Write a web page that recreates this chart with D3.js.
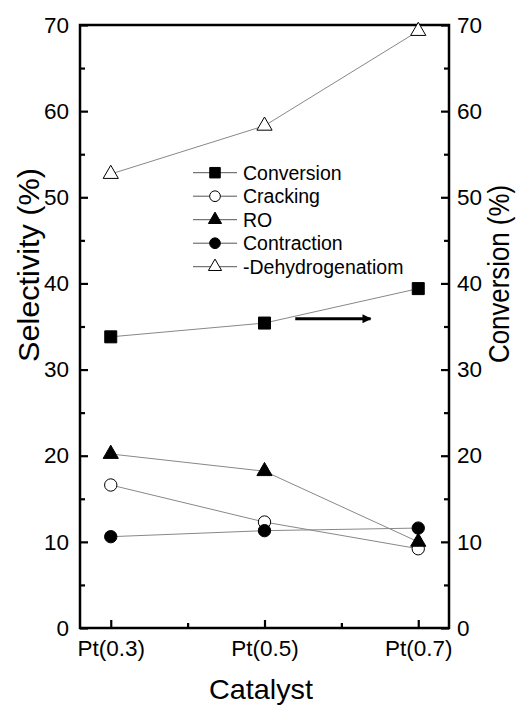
<!DOCTYPE html>
<html>
<head>
<meta charset="utf-8">
<script src="https://cdn.jsdelivr.net/npm/d3@7"></script>
<style>
  html, body { margin: 0; padding: 0; background: #fff; }
  svg { display: block; font-family: "Liberation Sans", Arial, sans-serif; }
</style>
</head>
<body>
<svg id="chart" width="525" height="705"></svg>
<script>
const categories = ["Pt(0.3)", "Pt(0.5)", "Pt(0.7)"];
const conversion = [33.8, 35.4, 39.4];
const cracking = [16.6, 12.3, 9.2];
const ro = [20.2, 18.2, 10.0];
const contraction = [10.6, 11.3, 11.6];
const dehydrogenation = [52.7, 58.3, 69.3];
const seriesNames = ["Conversion", "Cracking", "RO", "Contraction", "-Dehydrogenatiom"];
const yTicks = [0, 10, 20, 30, 40, 50, 60, 70];

(function () {
const series = [
  { name: seriesNames[0], values: conversion, symbol: d3.symbolSquare, size: 144, fill: "#000", lsize: 110 },
  { name: seriesNames[1], values: cracking, symbol: d3.symbolCircle, size: 120, fill: "#fff", lsize: 90 },
  { name: seriesNames[2], values: ro, symbol: d3.symbolTriangle, size: 100, fill: "#000", lsize: 75 },
  { name: seriesNames[3], values: contraction, symbol: d3.symbolCircle, size: 120, fill: "#000", lsize: 90 },
  { name: seriesNames[4], values: dehydrogenation, symbol: d3.symbolTriangle, size: 100, fill: "#fff", lsize: 75 }
];

const svg = d3.select("#chart");
const mL = 80, mR = 449, mT = 25, mB = 628;

const x = d3.scaleLinear().domain([-0.2, 2.2]).range([mL, mR]);
const y = d3.scaleLinear().domain([0, 70]).range([mB, mT]);
const y2 = d3.scaleLinear().domain([0, 70]).range([mB, mT]);

const minorY = d3.range(5, 70, 10);
function styleAxis(g) {
  g.select(".domain").remove();
  g.selectAll(".tick line").attr("stroke", "#000").attr("stroke-width", 2.2);
  g.selectAll(".tick text").attr("fill", "#000").attr("font-family", "Liberation Sans, Arial, sans-serif");
}

const gl = svg.append("g").attr("transform", `translate(${mL},0)`)
  .call(d3.axisLeft(y).tickValues(yTicks).tickSizeInner(-8).tickSizeOuter(0).tickPadding(11));
styleAxis(gl);
gl.selectAll(".tick text").attr("font-size", 22.5);
svg.append("g").attr("transform", `translate(${mL},0)`)
  .call(d3.axisLeft(y).tickValues(minorY).tickSize(-5).tickFormat(""))
  .call(styleAxis);

const gr = svg.append("g").attr("transform", `translate(${mR},0)`)
  .call(d3.axisRight(y2).tickValues(yTicks).tickSizeInner(-8).tickSizeOuter(0).tickPadding(8));
styleAxis(gr);
gr.selectAll(".tick text").attr("font-size", 22.5);
svg.append("g").attr("transform", `translate(${mR},0)`)
  .call(d3.axisRight(y2).tickValues(minorY).tickSize(-5).tickFormat(""))
  .call(styleAxis);

const gb = svg.append("g").attr("transform", `translate(0,${mB})`)
  .call(d3.axisBottom(x).tickValues([0, 1, 2]).tickFormat(i => categories[i]).tickSizeInner(-8).tickSizeOuter(0).tickPadding(12));
styleAxis(gb);
gb.selectAll(".tick text").attr("font-size", 22.5);
svg.append("g").attr("transform", `translate(0,${mB})`)
  .call(d3.axisBottom(x).tickValues([0.5, 1.5]).tickSize(-5).tickFormat(""))
  .call(styleAxis);

svg.append("rect").attr("x", mL).attr("y", mT).attr("width", mR - mL).attr("height", mB - mT)
  .attr("fill", "none").attr("stroke", "#000").attr("stroke-width", 2.5);

const line = d3.line().x((d, i) => x(i)).y(d => y(d));
series.forEach(s => {
  svg.append("path").datum(s.values).attr("d", line)
    .attr("fill", "none").attr("stroke", "#888").attr("stroke-width", 1);
});
series.forEach(s => {
  svg.append("g").selectAll("path").data(s.values).join("path")
    .attr("transform", (d, i) => `translate(${x(i)},${y(d)})`)
    .attr("d", d3.symbol().type(s.symbol).size(s.size))
    .attr("fill", s.fill).attr("stroke", "#000").attr("stroke-width", 1);
});

svg.append("defs").append("marker").attr("id", "ah")
  .attr("viewBox", "0 0 10 10").attr("refX", 9).attr("refY", 5)
  .attr("markerWidth", 5).attr("markerHeight", 3).attr("orient", "auto").attr("markerUnits", "strokeWidth")
  .append("path").attr("d", "M0,0 L10,5 L0,10 Z").attr("fill", "#000");
svg.append("line").attr("x1", x(1.2)).attr("x2", x(1.69)).attr("y1", y2(35.9)).attr("y2", y2(35.9))
  .attr("stroke", "#000").attr("stroke-width", 3).attr("marker-end", "url(#ah)");

const lg = svg.append("g");
series.forEach((s, i) => {
  const ly = 172.7 + i * 23.5;
  lg.append("line").attr("x1", 193).attr("x2", 237).attr("y1", ly).attr("y2", ly)
    .attr("stroke", "#555").attr("stroke-width", 1);
  lg.append("path").attr("transform", `translate(215,${ly})`)
    .attr("d", d3.symbol().type(s.symbol).size(s.lsize))
    .attr("fill", s.fill).attr("stroke", "#000").attr("stroke-width", 1);
  lg.append("text").attr("x", 243).attr("y", ly + 7).attr("font-size", 19.5).text(s.name);
});

svg.append("text").attr("transform", `translate(39,265) rotate(-90)`).attr("text-anchor", "middle")
  .attr("font-size", 30).attr("textLength", 194).attr("lengthAdjust", "spacingAndGlyphs").text("Selectivity (%)");
svg.append("text").attr("transform", `translate(509,274) rotate(-90)`).attr("text-anchor", "middle")
  .attr("font-size", 30).attr("textLength", 178).attr("lengthAdjust", "spacingAndGlyphs").text("Conversion (%)");
svg.append("text").attr("x", 261).attr("y", 699).attr("text-anchor", "middle")
  .attr("font-size", 28).attr("textLength", 104).attr("lengthAdjust", "spacingAndGlyphs").text("Catalyst");
})();
</script>
</body>
</html>
